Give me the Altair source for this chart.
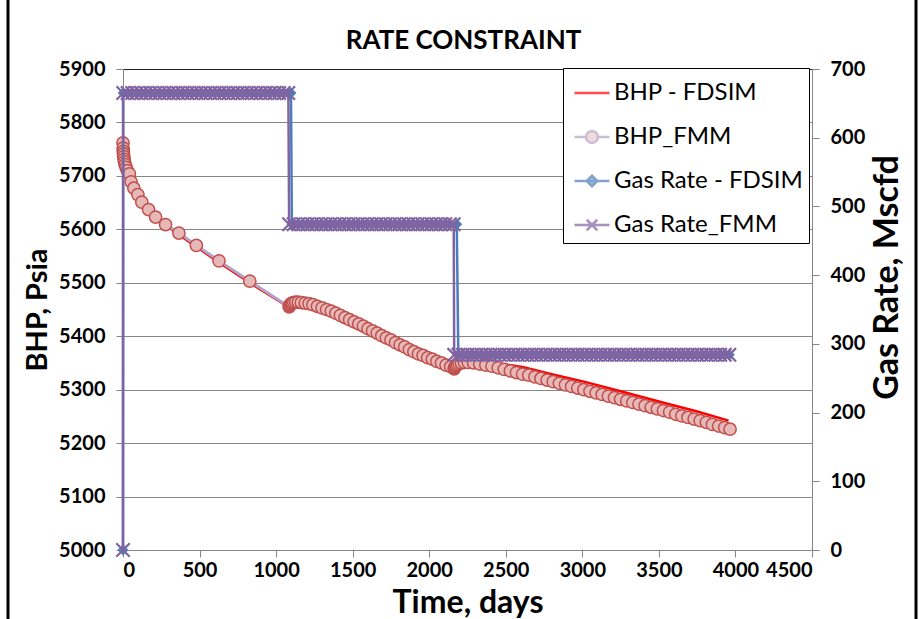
import altair as alt
import pandas as pd

# ---------------- data ----------------
# BHP from the FMM model (circles), days / psia
bhp_fmm_days = [0, 1, 2, 3, 5, 7, 10, 14, 20, 28, 42, 53, 71, 97, 123, 167, 213, 278, 365, 479, 627, 828, 1085,
                1088, 1092, 1098, 1105, 1115, 1128, 1145, 1165, 1190, 1215, 1240, 1270, 1300, 1330, 1360, 1390,
                1420, 1450, 1480, 1510, 1540, 1570, 1600, 1630, 1660, 1690, 1720, 1750, 1780, 1810, 1840, 1870,
                1900, 1930, 1960, 1990, 2020, 2050, 2080, 2110, 2140, 2163,
                2166, 2170, 2176, 2184, 2195, 2210, 2230, 2255, 2290, 2330, 2370, 2410, 2450, 2490, 2530, 2570,
                2610, 2650, 2690, 2730, 2770, 2810, 2850, 2890, 2930, 2970, 3010, 3050, 3090, 3130, 3170, 3210,
                3250, 3290, 3330, 3370, 3410, 3450, 3490, 3530, 3570, 3610, 3650, 3690, 3730, 3770, 3810, 3850,
                3890, 3930, 3965]
bhp_fmm_psia = [5762, 5752, 5746, 5741, 5736, 5731, 5726, 5721, 5716, 5710, 5704, 5689, 5677, 5665, 5651, 5637,
                5623, 5609, 5593, 5570, 5541, 5503, 5455,
                5457, 5459, 5461, 5462, 5463, 5464, 5464, 5463, 5462, 5461, 5459, 5456, 5453, 5450, 5447, 5443,
                5439, 5435, 5431, 5427, 5423, 5419, 5414, 5410, 5406, 5401, 5397, 5393, 5388, 5384, 5380, 5375,
                5371, 5367, 5364, 5360, 5357, 5353, 5350, 5346, 5343, 5339,
                5341, 5343, 5345, 5347, 5349, 5350, 5351, 5351, 5350, 5348, 5346, 5344, 5341, 5338, 5335, 5332,
                5329, 5327, 5324, 5321, 5318, 5315, 5312, 5309, 5306, 5303, 5300, 5297, 5294, 5291, 5288, 5285,
                5282, 5279, 5276, 5273, 5270, 5267, 5264, 5261, 5258, 5254, 5251, 5248, 5245, 5242, 5239, 5235,
                5232, 5229, 5226]

# BHP from the finite-difference simulator (red line)
bhp_fdsim_days = [0, 2, 5, 10, 20, 42, 71, 123, 213, 365, 627, 828, 1085, 1100, 1150, 1240, 1390, 1600, 1840,
                  2050, 2160, 2175, 2220, 2300, 2400, 2500, 2617, 2800, 3010, 3250, 3500, 3750, 3955]
bhp_fdsim_psia = [5745, 5740, 5735, 5727, 5716, 5702, 5676, 5650, 5621, 5590, 5538, 5500, 5454, 5461, 5463, 5459,
                  5443, 5414, 5380, 5353, 5339, 5345, 5350, 5352, 5351, 5347, 5342, 5329, 5315, 5297, 5278, 5259,
                  5242]

# Gas rate report times (days) for the three constant-rate periods
gas_days_p1 = [1, 30, 60, 90, 120, 150, 180, 210, 240, 270, 300, 330, 360, 390, 420, 450, 480, 510, 540, 570,
               600, 630, 660, 690, 720, 750, 780, 810, 840, 870, 900, 930, 960, 990, 1020, 1050, 1080]
gas_days_p2 = [1085, 1115, 1145, 1175, 1205, 1235, 1265, 1295, 1325, 1355, 1385, 1415, 1445, 1475, 1505, 1535,
               1565, 1595, 1625, 1655, 1685, 1715, 1745, 1775, 1805, 1835, 1865, 1895, 1925, 1955, 1985, 2015,
               2045, 2075, 2105, 2135, 2160]
gas_days_p3 = [2163, 2190, 2220, 2250, 2280, 2310, 2340, 2370, 2400, 2430, 2460, 2490, 2520, 2550, 2580, 2610,
               2640, 2670, 2700, 2730, 2760, 2790, 2820, 2850, 2880, 2910, 2940, 2970, 3000, 3030, 3060, 3090,
               3120, 3150, 3180, 3210, 3240, 3270, 3300, 3330, 3360, 3390, 3420, 3450, 3480, 3510, 3540, 3570,
               3600, 3630, 3660, 3690, 3720, 3750, 3780, 3810, 3840, 3870, 3900, 3930, 3960]
gas_rate_levels = [665, 474, 284]          # Mscfd, one per period
gas_start_day, gas_start_rate = 0, 0
fdsim_switch_days = [1097, 1103, 2180, 2193]  # FDSIM steps slightly later than FMM

series_names = ["BHP - FDSIM", "BHP_FMM", "Gas Rate - FDSIM", "Gas Rate_FMM"]
x_ticks = [0, 500, 1000, 1500, 2000, 2500, 3000, 3500, 4000, 4500]
left_ticks = [5000, 5100, 5200, 5300, 5400, 5500, 5600, 5700, 5800, 5900]
right_ticks = [0, 100, 200, 300, 400, 500, 600, 700]

# ---------------- tables ----------------
bhp_fmm = pd.DataFrame({"day": bhp_fmm_days, "psia": bhp_fmm_psia})
bhp_fd = pd.DataFrame({"day": bhp_fdsim_days, "psia": bhp_fdsim_psia})

fmm_days = [gas_start_day] + gas_days_p1 + gas_days_p2 + gas_days_p3
fmm_rate = ([gas_start_rate] + [gas_rate_levels[0]] * len(gas_days_p1)
            + [gas_rate_levels[1]] * len(gas_days_p2) + [gas_rate_levels[2]] * len(gas_days_p3))
gas_fmm = pd.DataFrame({"day": fmm_days, "rate": fmm_rate})

fd_p1 = gas_days_p1 + [fdsim_switch_days[0]]
fd_p2 = [fdsim_switch_days[1]] + gas_days_p2[1:-1] + [fdsim_switch_days[2]]
fd_p3 = [fdsim_switch_days[3]] + gas_days_p3[1:]
fd_days = [gas_start_day] + fd_p1 + fd_p2 + fd_p3
fd_rate = ([gas_start_rate] + [gas_rate_levels[0]] * len(fd_p1)
           + [gas_rate_levels[1]] * len(fd_p2) + [gas_rate_levels[2]] * len(fd_p3))
gas_fd = pd.DataFrame({"day": fd_days, "rate": fd_rate})

legend_df = pd.DataFrame({"series": series_names})

# ---------------- styling ----------------
FONT = "Lato"
RED = "#FF0000"
LAV = "#B3A2C7"
CIRC_FILL = "#E6B9B8"
CIRC_STROKE = "#C0504D"
BLUE = "#4A7EBB"
PURPLE = "#8064A2"
GRID = "#868686"

x_enc = alt.X("day:Q", scale=alt.Scale(domain=[0, 4500], nice=False, zero=False),
              axis=alt.Axis(values=x_ticks, title="Time, days", grid=False, format="d",
                            labelPadding=3, titlePadding=7, titleFontSize=32))
yl_axis = alt.Axis(values=left_ticks, title="BHP, Psia", grid=True, gridWidth=1, format="d",
                   gridColor={"condition": {"test": "datum.value === 5900", "value": "#222222"}, "value": GRID},
                   titlePadding=6, titleFontSize=29)
yl_enc = alt.Y("psia:Q", scale=alt.Scale(domain=[5000, 5900], nice=False, zero=False), axis=yl_axis)
yr_enc = alt.Y("rate:Q", scale=alt.Scale(domain=[0, 700], nice=False),
               axis=alt.Axis(values=right_ticks, orient="right", title="Gas Rate, Mscfd", grid=False,
                             format="d", titleAngle=-90, titleBaseline="top", titlePadding=6,
                             titleFontSize=34, titleY=208, titleAlign="center"))

red_line = alt.Chart(bhp_fd).mark_line(color=RED, strokeWidth=2.5).encode(x=x_enc, y=yl_enc, order="day:Q")
fmm_line = alt.Chart(bhp_fmm).mark_line(color=LAV, strokeWidth=3).encode(x=x_enc, y=yl_enc, order="day:Q")
fmm_pts = alt.Chart(bhp_fmm).mark_point(shape="circle", filled=True, fill=CIRC_FILL, stroke=CIRC_STROKE,
                                        strokeWidth=1.5, size=150, opacity=1).encode(x=x_enc, y=yl_enc)

legend_args = dict(title=None, orient="none", legendX=440, legendY=-1)
legend_layer = alt.Chart(legend_df).mark_point().encode(
    fill=alt.Fill("series:N", scale=alt.Scale(domain=series_names,
                                              range=["transparent", CIRC_FILL, BLUE, "transparent"]),
                  legend=alt.Legend(**legend_args)),
    stroke=alt.Stroke("series:N", scale=alt.Scale(domain=series_names, range=[RED, LAV, BLUE, PURPLE]),
                      legend=alt.Legend(**legend_args)),
    shape=alt.Shape("series:N", scale=alt.Scale(domain=series_names, range=[
        "M-1,0H1",
        "M-1,0H-0.34M0.34,0H1M0.34,0A0.34,0.34 0 1,1 -0.34,0A0.34,0.34 0 1,1 0.34,0Z",
        "M-1,0H1M0,-0.3L0.3,0L0,0.3L-0.3,0Z",
        "M-1,0H1M-0.3,-0.3L0.3,0.3M-0.3,0.3L0.3,-0.3",
    ]), legend=alt.Legend(**legend_args)),
).transform_filter("false")

frame = alt.Chart(pd.DataFrame({"k": [0]})).mark_rect(
    fillOpacity=0, stroke="black", strokeWidth=3
).encode(x=alt.value(-115), x2=alt.value(793), y=alt.value(-90), y2=alt.value(580))

blue_line = alt.Chart(gas_fd).mark_line(color=BLUE, strokeWidth=2.5).encode(x=x_enc, y=yr_enc, order="day:Q")
blue_pts = alt.Chart(gas_fd).mark_point(shape="diamond", filled=True, color=BLUE, size=120, opacity=1).encode(
    x=x_enc, y=yr_enc)
purple_line = alt.Chart(gas_fmm).mark_line(color=PURPLE, strokeWidth=2.5).encode(x=x_enc, y=yr_enc, order="day:Q")
purple_pts = alt.Chart(gas_fmm).mark_point(shape="M-1,-1L1,1M-1,1L1,-1", filled=False, stroke=PURPLE,
                                           strokeWidth=2.2, size=180, opacity=1).encode(x=x_enc, y=yr_enc)

left = alt.layer(red_line, fmm_line, fmm_pts, legend_layer, frame)
right = alt.layer(blue_line, blue_pts, purple_line, purple_pts)

chart = alt.layer(left, right).resolve_scale(y="independent").properties(
    width=689, height=481,
    autosize=alt.AutoSizeParams(type="none"),
    padding={"left": 123, "top": 69, "right": 110, "bottom": 69},
    title=alt.TitleParams("RATE CONSTRAINT", anchor="middle", frame="group", offset=18, dx=-4, dy=94),
).configure_view(stroke=None).configure_axis(
    labelFont=FONT, labelFontWeight="bold", labelFontSize=20, labelColor="black",
    titleFont=FONT, titleFontWeight="bold", titleColor="black",
    domainColor=GRID, tickColor=GRID, tickSize=7, labelPadding=11,
).configure_legend(
    labelFont=FONT, labelFontSize=24, labelColor="black", labelLimit=400,
    symbolSize=1225, symbolStrokeWidth=2.5, fillColor="white", strokeColor="black",
    padding=6, rowPadding=13, labelOffset=3, symbolOffset=4, cornerRadius=0,
).configure_title(font=FONT, fontSize=26, fontWeight="bold", color="black")

chart.save("out.html", embed_options={"renderer": "svg", "actions": False})
